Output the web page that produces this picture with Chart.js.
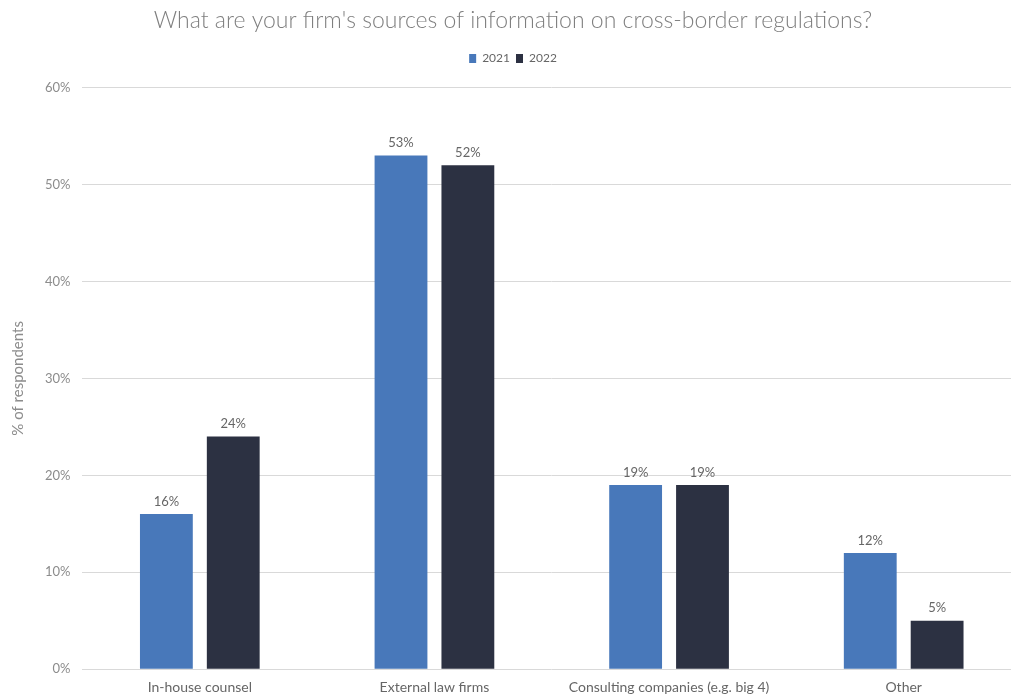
<!DOCTYPE html>
<html>
<head>
<meta charset="utf-8">
<script src="https://cdn.jsdelivr.net/npm/chart.js@4"></script>
<style>
  html, body { margin: 0; padding: 0; background: #fff; overflow: hidden; }
  #wrap { width: 1036px; height: 697px; position: relative; }
</style>
</head>
<body>
<div id="wrap"><canvas id="sourcesChart"></canvas></div>
<script>
const categories = ['In-house counsel', 'External law firms', 'Consulting companies (e.g. big 4)', 'Other'];
const values2021 = [16, 53, 19, 12];
const values2022 = [24, 52, 19, 5];
const yTicks = [0, 10, 20, 30, 40, 50, 60];

const FONT = "Lato, 'Open Sans', sans-serif";

// prints the percentage above every bar
const barValueLabels = {
  id: 'barValueLabels',
  afterDatasetsDraw(chart) {
    const ctx = chart.ctx;
    ctx.save();
    ctx.font = '13px ' + FONT;
    ctx.fillStyle = '#666666';
    ctx.textAlign = 'center';
    ctx.textBaseline = 'bottom';
    chart.data.datasets.forEach((ds, i) => {
      chart.getDatasetMeta(i).data.forEach((bar, j) => {
        ctx.fillText(ds.data[j] + '%', bar.x, bar.y - 6);
      });
    });
    ctx.restore();
  }
};

// a bit of extra room between the legend and the plot
const legendGap = {
  id: 'legendGap',
  beforeInit(chart) {
    const fit = chart.legend.fit;
    chart.legend.fit = function () {
      fit.call(this);
      this.height += 13;
    };
  }
};

new Chart(document.getElementById('sourcesChart'), {
  type: 'bar',
  data: {
    labels: categories,
    datasets: [
      { label: '2021', data: values2021, backgroundColor: '#4878ba', categoryPercentage: 0.57, barPercentage: 0.79 },
      { label: '2022', data: values2022, backgroundColor: '#2c3142', categoryPercentage: 0.57, barPercentage: 0.79 }
    ]
  },
  options: {
    responsive: true,
    maintainAspectRatio: false,
    animation: false,
    layout: { padding: { top: 7, right: 15, bottom: -1, left: 5 } },
    plugins: {
      title: {
        display: true,
        text: "What are your firm's sources of information on cross-border regulations?",
        color: '#7f7f7f',
        font: { family: FONT, size: 23, weight: '300' },
        padding: { top: 0, bottom: 12 }
      },
      legend: {
        display: true,
        labels: {
          boxWidth: 7,
          boxHeight: 9,
          padding: 6,
          color: '#666666',
          font: { family: FONT, size: 12 }
        }
      },
      tooltip: { enabled: false }
    },
    scales: {
      x: {
        grid: { display: false },
        border: { display: false },
        ticks: { color: '#666666', font: { family: FONT, size: 14 }, padding: 2 }
      },
      y: {
        min: 0,
        max: 60,
        afterBuildTicks: (axis) => { axis.ticks = yTicks.map(v => ({ value: v })); },
        grid: { color: '#d9d9d9', lineWidth: 1, drawTicks: false },
        border: { display: false },
        ticks: {
          color: '#8c8c8c',
          font: { family: FONT, size: 13 },
          padding: 12,
          callback: (v) => v + '%'
        },
        title: {
          display: true,
          text: '% of respondents',
          color: '#8c8c8c',
          font: { family: FONT, size: 15 },
          padding: { top: 4, bottom: 6 }
        }
      }
    }
  },
  plugins: [barValueLabels, legendGap]
});
</script>
</body>
</html>
